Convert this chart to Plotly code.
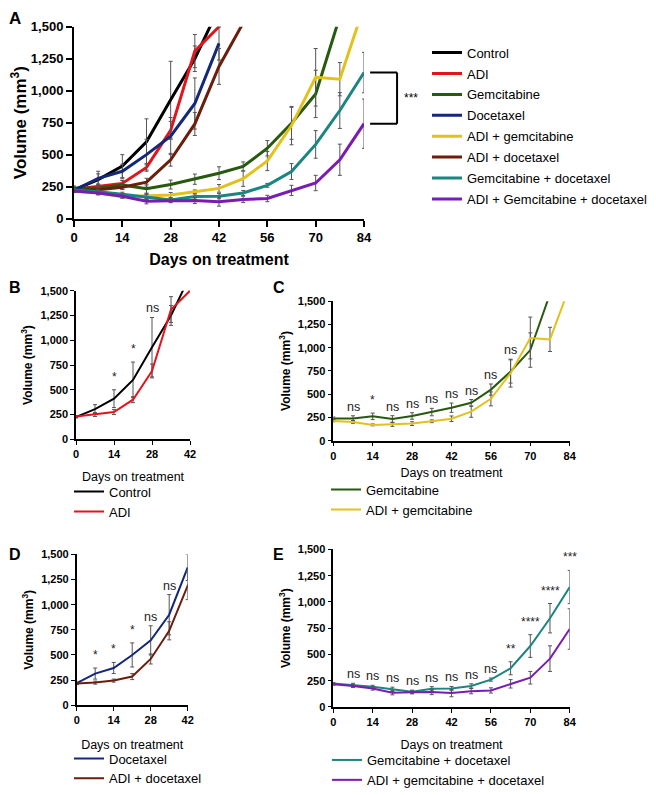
import plotly.graph_objects as go

# The page body has an 8px margin: figure sized so it fits the 656x795 window.
PAGE_OFF = 8
W, H = 656 - PAGE_OFF, 795 - PAGE_OFF

# ---------------- data ----------------
days_42 = [0, 7, 14, 21, 28, 35, 42]
days_49 = [0, 7, 14, 21, 28, 35, 42, 49]
days_77 = [0, 7, 14, 21, 28, 35, 42, 49, 56, 63, 70, 77]
days_84 = [0, 7, 14, 21, 28, 35, 42, 49, 56, 63, 70, 77, 84]

control = [225, 305, 410, 600, 930, 1250, 1650]
control_err = [10, 45, 90, 180, 300, 100, 0]
adi = [230, 250, 275, 400, 690, 1310, 1500]
adi_err = [10, 20, 25, 30, 70, 130, 0]
docetaxel = [220, 315, 370, 500, 645, 900, 1370]
docetaxel_err = [10, 55, 55, 120, 145, 200, 130]
adi_doc = [215, 225, 245, 285, 460, 740, 1190, 1530]
adi_doc_err = [10, 15, 15, 30, 50, 90, 140, 0]
gem = [240, 238, 262, 234, 266, 308, 355, 408, 550, 745, 975, 1580]
gem_err = [15, 30, 35, 35, 35, 40, 50, 35, 60, 125, 185, 0]
adi_gem = [213, 202, 170, 174, 184, 209, 236, 312, 450, 727, 1105, 1090, 1660]
adi_gem_err = [10, 15, 10, 20, 20, 15, 30, 60, 75, 150, 225, 130, 0]
gem_doc = [223, 210, 191, 168, 145, 173, 175, 200, 260, 368, 580, 845, 1142]
gem_doc_err = [10, 15, 15, 20, 15, 20, 20, 20, 15, 62, 108, 140, 158]
adi_gem_doc = [216, 200, 175, 135, 139, 142, 132, 150, 157, 220, 278, 460, 742]
adi_gem_doc_err = [10, 15, 15, 20, 15, 25, 35, 25, 25, 40, 60, 122, 193]

y_ticks = [0, 250, 500, 750, 1000, 1250, 1500]
x_ticks_84 = [0, 14, 28, 42, 56, 70, 84]
x_ticks_42 = [0, 14, 28, 42]

b_sig_days = [14, 21, 28]
b_sig_labels = ["*", "*", "ns"]
c_sig_days = [7, 14, 21, 28, 35, 42, 49, 56, 63]
c_sig_labels = ["ns", "*", "ns", "ns", "ns", "ns", "ns", "ns", "ns"]
d_sig_days = [7, 14, 21, 28, 35]
d_sig_labels = ["*", "*", "*", "ns", "ns"]
e_sig_days = [7, 14, 21, 28, 35, 42, 49, 56, 63, 70, 77, 84]
e_sig_labels = ["ns", "ns", "ns", "ns", "ns", "ns", "ns", "ns", "**", "****", "****", "***"]

# ---------------- styles ----------------
COL = {
    "Control": "#000000",
    "ADI": "#e3141b",
    "Gemcitabine": "#27590f",
    "Docetaxel": "#14287a",
    "ADI + gemcitabine": "#e2c21a",
    "ADI + docetaxel": "#6b1e0c",
    "Gemcitabine + docetaxel": "#1b8581",
    "ADI + Gemcitabine + docetaxel": "#7a1cb4",
}
FONT = "Liberation Sans, Arial, sans-serif"
ERR_COL = "#555555"


def fx(px):
    return (px - PAGE_OFF) / W


def fy(py):
    return 1 - (py - PAGE_OFF) / H


fig = go.Figure()

series_A = [
    ("Control", days_42, control, control_err),
    ("ADI", days_42, adi, adi_err),
    ("Gemcitabine", days_77, gem, gem_err),
    ("Docetaxel", days_42, docetaxel, docetaxel_err),
    ("ADI + gemcitabine", days_84, adi_gem, adi_gem_err),
    ("ADI + docetaxel", days_49, adi_doc, adi_doc_err),
    ("Gemcitabine + docetaxel", days_84, gem_doc, gem_doc_err),
    ("ADI + Gemcitabine + docetaxel", days_84, adi_gem_doc, adi_gem_doc_err),
]


def add_series(name, label, x, y, e, axis_id, legend, lw, group=None):
    fig.add_trace(go.Scatter(
        x=x, y=y, name=label, mode="lines",
        line=dict(color=COL[name], width=lw),
        error_y=dict(type="data", array=e, visible=True, color=ERR_COL,
                     thickness=1, width=2),
        xaxis="x" + axis_id, yaxis="y" + axis_id, legend=legend,
        legendgroup=group,
    ))


for name, x, y, e in series_A:
    add_series(name, name, x, y, e, "", "legend", 3, group="A " + name)

# B
add_series("Control", "Control", days_42, control, control_err, "2", "legend2", 2)
add_series("ADI", "ADI", days_42, adi, adi_err, "2", "legend2", 2)
# C
add_series("Gemcitabine", "Gemcitabine", days_77, gem, gem_err, "3", "legend3", 2)
add_series("ADI + gemcitabine", "ADI + gemcitabine", days_84, adi_gem, adi_gem_err, "3", "legend3", 2)
# D
add_series("Docetaxel", "Docetaxel", days_42, docetaxel, docetaxel_err, "4", "legend4", 2)
add_series("ADI + docetaxel", "ADI + docetaxel", days_49, adi_doc, adi_doc_err, "4", "legend4", 2)
# E
add_series("Gemcitabine + docetaxel", "Gemcitabine + docetaxel", days_84, gem_doc, gem_doc_err, "5", "legend5", 2)
add_series("ADI + Gemcitabine + docetaxel", "ADI + gemcitabine + docetaxel", days_84, adi_gem_doc, adi_gem_doc_err, "5", "legend5", 2)


def axes(px0, px1, py_top, py_bot, xmax, xticks, big, xstand):
    tf = dict(family=FONT, size=13 if big else 11, color="black", weight="bold")
    common = dict(showgrid=False, zeroline=False, showline=True, linecolor="black",
                  linewidth=2 if big else 1.6, ticks="outside",
                  ticklen=6 if big else 4, tickwidth=2 if big else 1.4,
                  tickcolor="black", tickfont=tf, automargin=False)
    xa = dict(common, domain=[fx(px0), fx(px1)], range=[0, xmax], tickvals=xticks,
              title=dict(text="Days on treatment", standoff=xstand,
                         font=dict(family=FONT, size=16 if big else 12.5, color="black",
                                   weight="bold" if big else "normal")))
    ya = dict(common, domain=[fy(py_bot), fy(py_top)], range=[0, 1500], tickvals=y_ticks,
              tickformat=",",
              title=dict(text="Volume (mm<sup>3</sup>)", standoff=10 if big else 5,
                         font=dict(family=FONT, size=17 if big else 12, color="black",
                                   weight="bold")))
    return xa, ya


xa, ya = axes(74, 364, 27, 221, 84, x_ticks_84, True, 10)
xa2, ya2 = axes(76, 190, 294, 444.3, 42, x_ticks_42, False, 13)
xa3, ya3 = axes(333.3, 569.7, 304.7, 445.7, 84, x_ticks_84, False, 8)
xa4, ya4 = axes(76.7, 187.7, 560.7, 713.3, 42, x_ticks_42, False, 15)
xa5, ya5 = axes(333.3, 569.7, 555.7, 715, 84, x_ticks_84, False, 13)

layout_axes = {}
for i, (a, b) in enumerate([(xa, ya), (xa2, ya2), (xa3, ya3), (xa4, ya4), (xa5, ya5)]):
    sid = "" if i == 0 else str(i + 1)
    a["anchor"] = "y" + sid
    b["anchor"] = "x" + sid
    layout_axes["xaxis" + sid] = a
    layout_axes["yaxis" + sid] = b


def legend_cfg(px, py, size, gap=0):
    return dict(x=fx(px), y=fy(py), xanchor="left", yanchor="top",
                bgcolor="rgba(0,0,0,0)", borderwidth=0, itemwidth=30,
                font=dict(family=FONT, size=size, color="black"),
                tracegroupgap=gap)


fig.update_layout(
    width=W, height=H, margin=dict(l=0, r=0, t=0, b=0),
    paper_bgcolor="white", plot_bgcolor="white",
    font=dict(family=FONT, color="black"),
    legend=legend_cfg(427, 38, 13, gap=1),
    legend2=legend_cfg(69, 482, 13),
    legend3=legend_cfg(326, 480, 13),
    legend4=legend_cfg(69, 752, 13),
    legend5=legend_cfg(327, 754, 13),
    **layout_axes,
)

# significance bracket in panel A
y_top = gem_doc[-1]
y_bot = adi_gem_doc[-1]
bx0, bx1 = 1.021, 1.114
for (x0, y0, x1, y1) in [(bx0, y_top, bx1, y_top), (bx1, y_top, bx1, y_bot), (bx0, y_bot, bx1, y_bot)]:
    fig.add_shape(type="line", xref="x domain", yref="y", x0=x0, y0=y0, x1=x1, y1=y1,
                  line=dict(color="black", width=2))
fig.add_annotation(xref="x domain", yref="y", x=1.13, y=(y_top + y_bot) / 2,
                   text="***", showarrow=False, xanchor="left", yanchor="middle",
                   font=dict(family=FONT, size=12, color="black"))


# significance labels for B-E
def sig_labels(days, labels, s1, s2, axis_id):
    for d, lab in zip(days, labels):
        tops = []
        for (xs, ys, es) in (s1, s2):
            if d in xs:
                i = xs.index(d)
                tops.append(ys[i] + es[i])
        yv = max(tops)
        fig.add_annotation(xref="x" + axis_id, yref="y" + axis_id, x=d, y=yv,
                           text=lab, showarrow=False, xanchor="center", yanchor="bottom",
                           yshift=4 if "*" in lab else 0,
                           font=dict(family=FONT, size=12.5 if lab == "ns" else 12, color="#222222"))


sig_labels(b_sig_days, b_sig_labels, (days_42, control, control_err), (days_42, adi, adi_err), "2")
sig_labels(c_sig_days, c_sig_labels, (days_77, gem, gem_err), (days_84, adi_gem, adi_gem_err), "3")
sig_labels(d_sig_days, d_sig_labels, (days_42, docetaxel, docetaxel_err), (days_49, adi_doc, adi_doc_err), "4")
sig_labels(e_sig_days, e_sig_labels, (days_84, gem_doc, gem_doc_err), (days_84, adi_gem_doc, adi_gem_doc_err), "5")

# panel letters (kept inside the figure edges)
fig.add_annotation(xref="paper", yref="paper", x=fx(8), y=1, text="A",
                   showarrow=False, xanchor="left", yanchor="top", borderpad=0,
                   font=dict(family=FONT, size=17, color="black", weight="bold"))
for letter, px, py, size, xanc in [("B", 8, 290.5, 16, "left"),
                                    ("C", 278.5, 290.5, 16, "center"),
                                    ("D", 8, 561, 16, "left"), ("E", 278.5, 561, 16, "center")]:
    fig.add_annotation(xref="paper", yref="paper", x=fx(px), y=fy(py), text=letter,
                       showarrow=False, xanchor=xanc, yanchor="middle", borderpad=0,
                       font=dict(family=FONT, size=size, color="black", weight="bold"))

fig.write_html("out.html")
